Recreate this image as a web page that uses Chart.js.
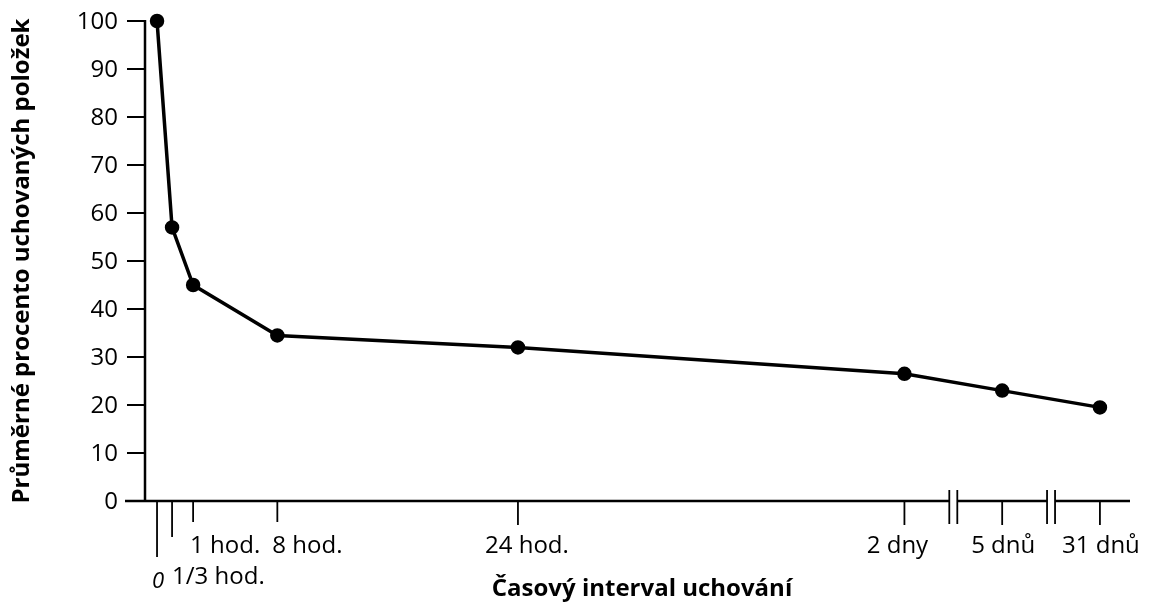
<!DOCTYPE html>
<html lang="cs">
<head>
<meta charset="utf-8">
<title>Průměrné procento uchovaných položek</title>
<script src="https://cdn.jsdelivr.net/npm/chart.js"></script>
<style>
  html, body { margin: 0; padding: 0; background: #fff; }
  #wrap { width: 1150px; height: 607px; }
</style>
</head>
<body>
<div id="wrap"><canvas id="chart" width="1150" height="607"></canvas></div>
<script>
// data
const timeLabels = ['0', '1/3 hod.', '1 hod.', '8 hod.', '24 hod.', '2 dny', '5 dnů', '31 dnů'];
// place along the (broken) time axis, in hour units for the first day
const axisPos = [0, 1, 2.4, 8, 24, 49.7, 56.2, 62.7];
const retained = [100, 57, 45, 34.5, 32, 26.5, 23, 19.5];
const yTicks = [0, 10, 20, 30, 40, 50, 60, 70, 80, 90, 100];
const yTitle = 'Průměrné procento uchovaných položek';
const xTitle = 'Časový interval uchování';

// how each time label sits under its tick (tick length, row, alignment)
const labelStyle = [
    { tick: 56, row: 2, align: 'center', dx: 1, italic: true },
    { tick: 36, row: 2, align: 'left', dx: 0 },
    { tick: 21, row: 1, align: 'left', dx: -3 },
    { tick: 21, row: 1, align: 'left', dx: -5 },
    { tick: 24, row: 1, align: 'center', dx: 9 },
    { tick: 24, row: 1, align: 'center', dx: -7 },
    { tick: 24, row: 1, align: 'center', dx: 1 },
    { tick: 24, row: 1, align: 'center', dx: 1 }
];

const FONT = '"Open Sans", "DejaVu Sans", sans-serif';

const axesPlugin = {
    id: 'axes',
    beforeDatasetsDraw(chart) {
        const ctx = chart.ctx;
        const xs = chart.scales.x, ys = chart.scales.y;
        const left = chart.chartArea.left, right = chart.chartArea.right;
        const bottom = ys.getPixelForValue(0), top = ys.getPixelForValue(100);

        ctx.save();
        ctx.strokeStyle = '#000';
        ctx.fillStyle = '#000';
        ctx.lineCap = 'butt';

        // y axis + ticks
        ctx.lineWidth = 2.5;
        ctx.beginPath();
        ctx.moveTo(left, top - 1);
        ctx.lineTo(left, bottom + 1);
        ctx.stroke();

        ctx.font = '500 24px ' + FONT;
        ctx.textAlign = 'right';
        ctx.textBaseline = 'middle';
        ctx.lineWidth = 2;
        yTicks.forEach(v => {
            const py = ys.getPixelForValue(v);
            ctx.beginPath();
            ctx.moveTo(left - 18, py);
            ctx.lineTo(left, py);
            ctx.stroke();
            ctx.fillText(String(v), left - 27, py + 1);
        });

        // x axis with two breaks between the day points
        const breaks = [
            (axisPos[5] + axisPos[6]) / 2,
            (axisPos[6] + axisPos[7]) / 2
        ].map(v => xs.getPixelForValue(v));
        const gap = 4;
        let segStart = left - 20;
        ctx.lineWidth = 2.5;
        breaks.forEach(bx => {
            ctx.beginPath();
            ctx.moveTo(segStart, bottom);
            ctx.lineTo(bx - gap, bottom);
            ctx.stroke();
            segStart = bx + gap;
        });
        ctx.beginPath();
        ctx.moveTo(segStart, bottom);
        ctx.lineTo(right, bottom);
        ctx.stroke();

        ctx.lineWidth = 1.8;
        breaks.forEach(bx => {
            [-gap, gap].forEach(d => {
                ctx.beginPath();
                ctx.moveTo(bx + d, bottom - 11);
                ctx.lineTo(bx + d, bottom + 23);
                ctx.stroke();
            });
        });

        // x ticks and labels
        ctx.textBaseline = 'middle';
        timeLabels.forEach((lab, i) => {
            const st = labelStyle[i];
            const px = xs.getPixelForValue(axisPos[i]);
            ctx.lineWidth = 1.8;
            ctx.beginPath();
            ctx.moveTo(px, bottom);
            ctx.lineTo(px, bottom + st.tick);
            ctx.stroke();
            ctx.font = (st.italic ? 'italic 500 22px ' : '500 24px ') + FONT;
            ctx.textAlign = st.align;
            const ty = st.row === 1 ? bottom + 45 : bottom + 76 + (st.italic ? 5 : 0);
            ctx.fillText(lab, px + st.dx, ty);
        });

        // axis titles
        ctx.font = 'bold 24px ' + FONT;
        ctx.textAlign = 'center';
        ctx.fillText(xTitle, 642, bottom + 88);

        ctx.save();
        ctx.translate(22, (top + bottom) / 2);
        ctx.rotate(-Math.PI / 2);
        ctx.fillText(yTitle, 0, 0);
        ctx.restore();

        ctx.restore();
    }
};

new Chart(document.getElementById('chart'), {
    type: 'line',
    data: {
        datasets: [{
            label: yTitle,
            data: axisPos.map((p, i) => ({ x: p, y: retained[i] })),
            borderColor: '#000',
            backgroundColor: '#000',
            borderWidth: 3.5,
            pointRadius: 5.5,
            pointHoverRadius: 5.5,
            tension: 0,
            clip: false
        }]
    },
    options: {
        responsive: false,
        devicePixelRatio: 1,
        animation: false,
        layout: { padding: { left: 145, right: 20, top: 21, bottom: 106 } },
        plugins: { legend: { display: false }, tooltip: { enabled: false } },
        scales: {
            x: { type: 'linear', min: -0.8, max: 64.7, display: false },
            y: { type: 'linear', min: 0, max: 100, display: false }
        }
    },
    plugins: [axesPlugin]
});
</script>
</body>
</html>
